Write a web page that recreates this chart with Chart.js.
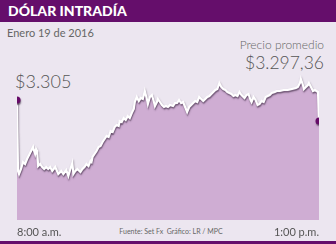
<!DOCTYPE html>
<html lang="es">
<head>
<meta charset="utf-8">
<script src="https://cdn.jsdelivr.net/npm/chart.js@4.4.1/dist/chart.umd.min.js"></script>
<style>
    html, body { margin: 0; padding: 0; }
    body { background: #ece6f0; font-family: 'Lato', 'Open Sans', sans-serif; }
    #wrap { position: relative; width: 336px; height: 244px; overflow: hidden; background: #ece6f0; }
    #header { position: absolute; left: 0; top: 0; width: 336px; height: 22px; background: #650e6b; }
    #header span { position: absolute; left: 8px; top: 3px; color: #fff; font-weight: 900; font-size: 14px; line-height: 16px; }
    #footer { position: absolute; left: 0; top: 241px; width: 336px; height: 3px; background: #650e6b; }
    #chart { position: absolute; left: 0; top: 0; }
    .txt { position: absolute; color: #555; white-space: nowrap; line-height: 1; }
</style>
</head>
<body>
<div id="wrap">
    <div id="header"><span>DÓLAR INTRADÍA</span></div>
    <div class="txt" style="left:7px; top:27px; font-size:11px; color:#666;">Enero 19 de 2016</div>
    <div class="txt" style="right:12px; top:39px; font-size:12px; color:#666; font-weight:300;">Precio promedio</div>
    <div class="txt" style="right:12px; top:54px; font-size:17.5px; color:#555; font-weight:300;">$3.297,36</div>
    <div class="txt" style="left:15px; top:72px; font-size:18px; color:#555; font-weight:300;">$3.305</div>
    <div class="txt" style="left:0; width:342px; text-align:center; top:228px; font-size:7px; color:#666;">Fuente: Set Fx&nbsp; Gráfico: LR / MPC</div>
    <canvas id="chart" width="336" height="244"></canvas>
    <div id="footer"></div>
</div>
<script>
// minutos desde las 8:00 a.m.
const minutos = [0, 1, 2, 4, 6, 8, 10, 12, 14, 16, 17, 18, 19, 20, 21, 23, 25, 27, 29, 31,
    33, 35, 38, 41, 44, 46, 49, 51, 53, 55, 56, 58, 60, 63, 65, 67, 69, 71, 73, 74,
    75, 77, 79, 81, 83, 85, 87, 89, 91, 93, 95, 97, 99, 101, 102, 104, 106, 108, 110, 112,
    114, 116, 117, 119, 121, 123, 125, 127, 129, 130, 132, 134, 136, 137, 139, 140, 142, 144, 146, 148,
    150, 152, 155, 157, 159, 161, 163, 165, 167, 169, 171, 173, 175, 177, 179, 181, 183, 185, 187, 189,
    191, 193, 195, 197, 199, 201, 203, 205, 207, 209, 211, 213, 215, 217, 219, 221, 223, 226, 228, 230,
    232, 233, 235, 237, 239, 241, 243, 245, 247, 249, 251, 253, 256, 258, 261, 265, 269, 273, 277, 279,
    281, 282, 284, 285, 287, 289, 290, 292, 294, 296, 299, 300];

const precios = [3305, 3269.5, 3268, 3270.5, 3274, 3273, 3275.5, 3277.5, 3279.5, 3281.5, 3279.5, 3278, 3280.5, 3279.5, 3272, 3273, 3271.5, 3270.5, 3271.5, 3270.5,
    3271.5, 3269.5, 3271.5, 3268, 3269.5, 3268, 3270, 3267, 3270.5, 3273.5, 3268, 3269.5, 3270.5, 3269, 3270.5, 3271.5, 3273, 3272, 3274.5, 3274,
    3276.5, 3278, 3279.5, 3281.5, 3282, 3284, 3285.5, 3287, 3286.5, 3289.5, 3289, 3291.5, 3292.5, 3292, 3294.5, 3294, 3296, 3295, 3297, 3296,
    3298.5, 3300.5, 3304, 3306.5, 3304.5, 3306, 3305.5, 3309.5, 3305.5, 3303, 3306.5, 3307.5, 3304, 3302, 3304, 3305.5, 3304, 3302.5, 3301.5, 3302,
    3301.5, 3302.5, 3302, 3303.5, 3303.5, 3305, 3303.5, 3304, 3301.5, 3299, 3301.5, 3302.5, 3303.5, 3304.5, 3304, 3306.5, 3305.5, 3304.5, 3305.5, 3306.5,
    3307, 3308, 3309, 3310, 3310.5, 3313.5, 3311.5, 3310.5, 3310, 3309, 3308.5, 3308, 3307, 3307.5, 3307, 3309, 3307.5, 3306, 3307.5, 3308,
    3305, 3304, 3306.5, 3305, 3302.5, 3303, 3304.5, 3304, 3306.5, 3307, 3307.5, 3308.5, 3309, 3309.5, 3309.5, 3310, 3310, 3310.5, 3311, 3311.5,
    3313.5, 3315.5, 3312.5, 3310.5, 3311.5, 3312.5, 3313.5, 3311.5, 3309.5, 3310, 3309, 3294.5];

const etiquetasX = ['8:00 a.m.', '1:00 p.m.'];

const puntos = minutos.map((m, i) => ({ x: m, y: precios[i] }));
const radios = puntos.map((p, i) => (i === 0 || i === puntos.length - 1) ? 3.5 : 0);

// sombra oscura bajo la línea blanca (solo para el trazo, no para los puntos)
const sombraLinea = {
    id: 'sombraLinea',
    beforeDatasetDraw(chart) {
        const ctx = chart.ctx;
        ctx.save();
        ctx.shadowColor = 'rgba(60, 40, 65, 0.7)';
        ctx.shadowBlur = 1.5;
        ctx.shadowOffsetY = 1.5;
        ctx.shadowOffsetX = 0.5;
    },
    afterDatasetDraw(chart) {
        chart.ctx.restore();
    }
};

new Chart(document.getElementById('chart'), {
    type: 'line',
    data: {
        datasets: [{
            data: puntos,
            borderColor: '#ffffff',
            borderWidth: 2.2,
            backgroundColor: '#cfadd3',
            fill: 'origin',
            tension: 0,
            pointRadius: radios,
            pointBackgroundColor: '#660b68',
            pointBorderColor: '#660b68',
            pointBorderWidth: 0
        }]
    },
    options: {
        responsive: false,
        animation: false,
        layout: { padding: { left: 17, right: 17, top: 60, bottom: 0 } },
        scales: {
            x: {
                type: 'linear',
                min: 0,
                max: 300,
                grid: { display: false, drawTicks: false },
                border: { display: false },
                afterBuildTicks: function(scale) {
                    scale.ticks = [{ value: 0 }, { value: 300 }];
                },
                afterFit: function(scale) {
                    scale.height = 24;
                },
                ticks: {
                    align: 'inner',
                    maxRotation: 0,
                    padding: 6,
                    color: '#555',
                    font: { family: 'Lato', size: 11 },
                    callback: function(value) {
                        return value === 0 ? etiquetasX[0] : etiquetasX[1];
                    }
                }
            },
            y: {
                display: false,
                min: 3245,
                max: 3325
            }
        },
        plugins: {
            legend: { display: false },
            tooltip: { enabled: false }
        }
    },
    plugins: [sombraLinea]
});
</script>
</body>
</html>
